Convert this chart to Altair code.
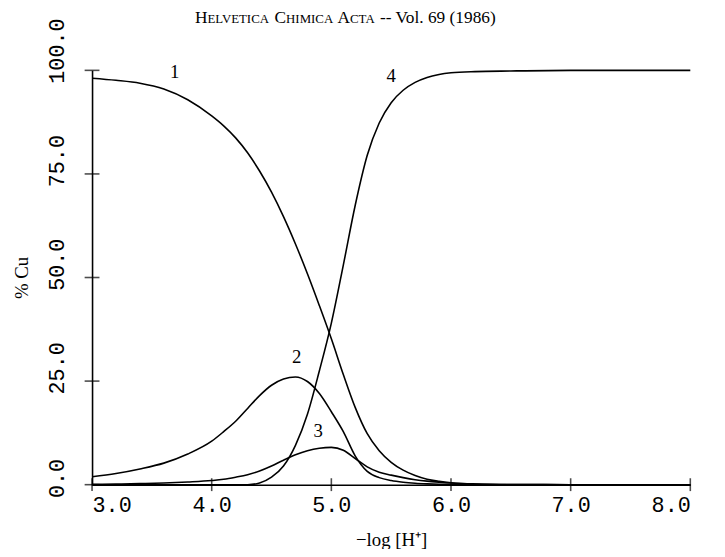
import altair as alt
import pandas as pd

# ---------------- data ----------------
ph = [3.0, 3.2, 3.4, 3.6, 3.8, 4.0, 4.1, 4.2, 4.3, 4.4, 4.5, 4.6, 4.7, 4.8, 4.9,
      5.0, 5.1, 5.2, 5.3, 5.4, 5.5, 5.6, 5.7, 5.8, 5.9, 6.0, 6.2, 6.5, 7.0, 7.5, 8.0]

curve1 = [98.1, 97.6, 96.9, 95.5, 92.9, 89.0, 86.6, 83.7, 80.1, 75.7, 70.6, 64.7, 58.1, 50.9, 43.2,
          35.2, 26.6, 18.6, 12.3, 8.2, 5.4, 3.5, 2.2, 1.3, 0.8, 0.45, 0.15, 0.03, 0.0, 0.0, 0.0]
curve2 = [1.9, 2.7, 3.8, 5.2, 7.4, 10.5, 12.8, 15.3, 18.4, 21.5, 24.0, 25.5, 26.0, 24.9, 22.0,
          17.6, 12.8, 6.9, 3.2, 1.7, 1.0, 0.6, 0.35, 0.2, 0.1, 0.05, 0.02, 0.0, 0.0, 0.0, 0.0]
curve3 = [0.1, 0.15, 0.25, 0.4, 0.65, 1.0, 1.3, 1.8, 2.4, 3.3, 4.5, 5.9, 7.2, 8.2, 8.8,
          9.0, 8.3, 6.3, 4.3, 3.0, 2.3, 1.7, 1.2, 0.85, 0.6, 0.4, 0.18, 0.05, 0.0, 0.0, 0.0]
curve4 = [0.0, 0.0, 0.0, 0.0, 0.0, 0.0, 0.0, 0.0, 0.0, 0.4, 1.8, 4.5, 9.5, 17.0, 27.5,
          39.0, 53.0, 67.5, 79.5, 87.3, 92.2, 95.2, 97.1, 98.3, 99.0, 99.4, 99.7, 99.85, 100.0, 100.0, 100.0]

series_names = ["1", "2", "3", "4"]

x_ticks = [3.0, 4.0, 5.0, 6.0, 7.0, 8.0]
y_ticks = [0.0, 25.0, 50.0, 75.0, 100.0]

curve_label_text = ["1", "2", "3", "4"]
curve_label_x = [3.69, 4.71, 4.89, 5.50]
curve_label_y = [99.5, 30.8, 12.9, 98.5]

title_pieces = [("H", "big"), ("ELVETICA", "small"), (" C", "big"), ("HIMICA", "small"),
                (" A", "big"), ("CTA", "small"), (" -- Vol. 69 (1986)", "big")]

# ---------------- build tables ----------------
rows = []
for name, vals in zip(series_names, [curve1, curve2, curve3, curve4]):
    for x, v in zip(ph, vals):
        rows.append({"ph": x, "pct": v, "species": name})
df = pd.DataFrame(rows)

xtick_df = pd.DataFrame({"ph": x_ticks, "pct": [0.0] * len(x_ticks)})
ytick_df = pd.DataFrame({"ph": [3.0] * len(y_ticks), "pct": y_ticks})
lab_df = pd.DataFrame({"ph": curve_label_x, "pct": curve_label_y, "txt": curve_label_text})

W, H = 605, 419
xs = alt.Scale(domain=[3, 8], nice=False, zero=False)
ys = alt.Scale(domain=[0, 100], nice=False, zero=False)

x_axis = alt.Axis(
    values=x_ticks, format=".1f", title="\u2212log [H\u207a]",
    labelFont="Liberation Mono", labelFontSize=22, labelPadding=10,
    labelColor="black", ticks=False, tickSize=0, grid=False,
    domainColor="black", domainWidth=1.6,
    titleFont="Liberation Serif", titleFontSize=19, titleFontWeight="normal",
    titleColor="black", titlePadding=16)
y_axis = alt.Axis(
    values=y_ticks, format=".1f", title="% Cu",
    labelFont="Liberation Mono", labelFontSize=22, labelPadding=29,
    labelAngle=270, labelAlign="left", labelBaseline="alphabetic", labelOffset=13,
    labelColor="black", ticks=False, tickSize=0, grid=False,
    domainColor="black", domainWidth=1.6,
    titleFont="Liberation Serif", titleFontSize=19, titleFontWeight="normal",
    titleColor="black", titleAngle=270, titleAlign="center", titleBaseline="middle",
    titleX=-71, titleY=H / 2)

X = alt.X("ph:Q", scale=xs, axis=x_axis)
Y = alt.Y("pct:Q", scale=ys, axis=y_axis)

lines = alt.Chart(df).mark_line(interpolate="monotone", color="black", strokeWidth=1.6).encode(
    x=X, y=Y, detail="species:N")

xt = alt.Chart(xtick_df).mark_tick(orient="vertical", size=13, thickness=1.6, color="black").encode(
    x=X, y=Y)
yt = alt.Chart(ytick_df).mark_tick(orient="horizontal", size=15, thickness=1.6, color="black").encode(
    x=X, y=Y)

labels = alt.Chart(lab_df).mark_text(font="Liberation Serif", fontSize=19, color="black",
                                     align="center", baseline="middle").encode(
    x=X, y=Y, text="txt:N")

# ---------------- small-caps running head ----------------
TW = {"A": 722, "B": 667, "C": 667, "D": 722, "E": 611, "H": 722, "I": 333, "L": 611, "M": 889,
      "T": 611, "V": 722, "o": 500, "l": 278, " ": 250, ".": 250, "-": 333, "(": 333, ")": 333}
BIG, SMALL = 17.5, 13


def text_w(s, size):
    return sum(TW.get(ch, 500) for ch in s) / 1000 * size


one = pd.DataFrame({"a": [0]})
head_layers = []
cx = 104
base_y = -48
for txt, kind in title_pieces:
    size = BIG if kind == "big" else SMALL
    lead = len(txt) - len(txt.lstrip(" "))
    cx += text_w(" " * lead, size)
    body = txt.lstrip(" ")
    head_layers.append(alt.Chart(one).mark_text(
        font="Liberation Serif", fontSize=size, color="black", align="left",
        baseline="alphabetic").encode(x=alt.value(cx), y=alt.value(base_y), text=alt.value(body)))
    cx += text_w(body, size)

chart = alt.layer(lines, xt, yt, labels, *head_layers).properties(
    width=W, height=H,
    autosize=alt.AutoSizeParams(type="none"),
    padding={"left": 85, "top": 60, "right": 27, "bottom": 62},
    background="white",
).configure_view(stroke=None)

chart.save("out.html", embed_options={"renderer": "svg", "actions": False})
